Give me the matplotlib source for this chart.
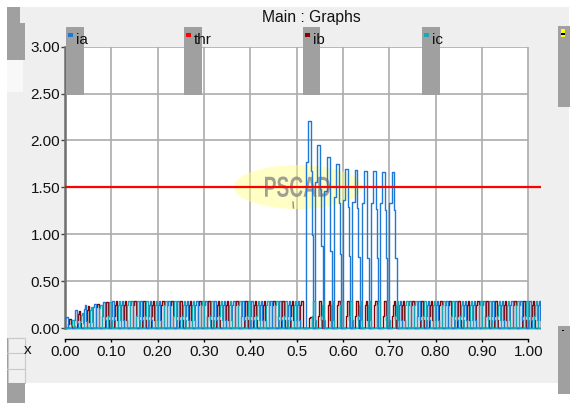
import matplotlib
matplotlib.use('Agg')
import matplotlib.pyplot as plt
from matplotlib.patches import Rectangle, Ellipse, PathPatch
from matplotlib.textpath import TextPath
from matplotlib.font_manager import FontProperties
import matplotlib.transforms as mtransforms

plt.rcParams['font.family'] = ['Liberation Sans', 'DejaVu Sans']

# ---------------- data ----------------
title = "Main : Graphs"
period = 0.02
t_end = 1.028
threshold = 1.5
x_ticks = [0.0, 0.1, 0.2, 0.3, 0.4, 0.5, 0.6, 0.7, 0.8, 0.9, 1.0]
x_tick_labels = ['0.00', '0.10', '0.20', '0.30', '0.40', '0.5', '0.60', '0.70', '0.80', '0.90', '1.00']
y_ticks = [0.0, 0.5, 1.0, 1.5, 2.0, 2.5, 3.0]
y_tick_labels = ['0.00', '0.50', '1.00', '1.50', '2.00', '2.50', '3.00']
series_names = ['ia', 'thr', 'ib', 'ic']
series_colors = ['#1E78D6', '#FF0000', '#8B0000', '#1AA7B5']

# stepped pulse shapes (duration ms, relative level)
normal_step_ms = [1.0, 1.5, 3.5, 1.5]
normal_levels = [0.45, 0.85, 1.0, 0.3]
fault_step_ms = [5.0, 6.0, 1.5, 3.5]
fault_levels = [0.80, 1.0, 0.76, 0.45]

# per-cycle pulse amplitudes
ia_amps = [0.12, 0.19, 0.24, 0.26, 0.28] + [0.29] * 21 + \
          [2.21, 1.95, 1.82, 1.75, 1.70, 1.68, 1.67, 1.67, 1.66, 1.66] + [0.29] * 16
ib_amps = [0.10, 0.18, 0.23, 0.26, 0.28] + [0.29] * 21 + [0.12] + [0.29] * 25
ic_amps = [0.08, 0.16, 0.22, 0.25, 0.28] + [0.29] * 20 + [0.0] + [0.29] * 26
phase_shift = [0.0, 1.0 / 3.0, 2.0 / 3.0]  # fraction of a period


def build(amps, shift):
    t, y = [0.0], [0.0]
    off = shift * period
    for k, a in enumerate(amps):
        start = off + k * period
        if start >= t_end:
            break
        if a > 0.5:
            steps, levels = fault_step_ms, fault_levels
        else:
            steps, levels = normal_step_ms, normal_levels
        tt = start
        for d, lv in zip(steps, levels):
            t.append(tt)
            y.append(a * lv)
            tt += d / 1000.0
        t.append(tt)
        y.append(0.0)
    t.append(t_end)
    y.append(0.0)
    return t, y


W, H = 570, 403
fig = plt.figure(figsize=(W / 100, H / 100), dpi=100)
fig.patch.set_facecolor('white')
# pixel transform (origin top-left)
px = mtransforms.Affine2D().scale(1 / 100, -1 / 100).translate(0, H / 100) + fig.dpi_scale_trans

# background panel and window decorations
bg = fig.add_axes([0, 0, 1, 1], zorder=0)
bg.set_axis_off()
bg.add_patch(Rectangle((7, 7), 562, 376, facecolor='#EFEFEF', transform=px, zorder=0))
bg.add_patch(Rectangle((7, 7), 13, 16, facecolor='#A0A0A0', transform=px))
bg.add_patch(Rectangle((7, 23), 18, 37, facecolor='#A0A0A0', transform=px))
bg.add_patch(Rectangle((7, 60), 16, 32, facecolor='#F8F8F8', transform=px))
bg.add_patch(Rectangle((7.5, 338), 17, 45, facecolor='#F0F0F0', edgecolor='#C8C8C8', linewidth=0.8, transform=px))
bg.add_patch(Rectangle((7, 338), 1.2, 45, facecolor='#A0A0A0', transform=px))
bg.plot([7, 25], [353, 353], color='#C8C8C8', lw=0.8, transform=px)
bg.plot([7, 25], [369, 369], color='#C8C8C8', lw=0.8, transform=px)
bg.add_patch(Rectangle((7, 383), 18, 20, facecolor='#A0A0A0', transform=px))
bg.text(28, 350, 'x', fontsize=11, ha='center', va='center', transform=px, color='#111111')
bg.text(311.7, 17.5, title, fontsize=11.3, ha='center', va='center', transform=px, color='#111111')

# data axes
x0_px, x1_px = 65.0, 528.3
y0_px, y3_px = 328.0, 46.7
xs = (x1_px - x0_px)
ys = (y0_px - y3_px) / 3.0
ymin = -0.02
left_px = x0_px
right_px = x0_px + t_end * xs
bottom_px = y0_px - ymin * ys
top_px = y3_px
ax = fig.add_axes([left_px / W, 1 - bottom_px / H, (right_px - left_px) / W, (bottom_px - top_px) / H], zorder=1)
ax.set_facecolor('none')
ax.set_xlim(0, t_end)
ax.set_ylim(ymin, 3.0)

ax.add_patch(Rectangle((0, 0), 1.0, 3.0, facecolor='white', edgecolor='none', zorder=0))
grid_c = '#ABABAB'
ax.vlines(x_ticks[1:], 0, 3.0, color=grid_c, lw=1.2, zorder=1)
ax.hlines(y_ticks, 0, 1.0, color=grid_c, lw=1.2, zorder=1)

# watermark
ax.add_patch(Ellipse((298, 187), 128, 44, facecolor='#FFFF80', edgecolor='none', alpha=0.45,
                     transform=px, zorder=2))
tp = TextPath((0, 0), "PSCAD", size=1, prop=FontProperties(family='Liberation Sans', weight='bold'))
ext = tp.get_extents()
sx = 65.0 / ext.width
sy = 20.5 / ext.height
tr = mtransforms.Affine2D().translate(-ext.x0, -ext.y0).scale(sx, -sy).translate(265, 197) + px
ax.add_patch(PathPatch(tp, facecolor='#8E8E8E', edgecolor='none', alpha=0.85, transform=tr, zorder=2))
ax.plot([293, 293.5], [202, 208], color='#8E8E8E', lw=1, transform=px, zorder=2)

# series
t_a, y_a = build(ia_amps, phase_shift[0])
t_b, y_b = build(ib_amps, phase_shift[1])
t_c, y_c = build(ic_amps, phase_shift[2])
ax.plot(t_b, y_b, drawstyle='steps-post', color=series_colors[2], lw=1.0, zorder=3)
ax.plot(t_a, y_a, drawstyle='steps-post', color=series_colors[0], lw=1.0, zorder=4)
ax.plot(t_c, y_c, drawstyle='steps-post', color=series_colors[3], lw=1.0, zorder=5)
ax.plot([0, t_end], [threshold, threshold], color=series_colors[1], lw=1.6, zorder=6)

# axes styling
for s in ['top', 'right']:
    ax.spines[s].set_visible(False)
ax.spines['left'].set_color('#6E6E6E')
ax.spines['left'].set_linewidth(1.8)
ax.spines['left'].set_bounds(0, 3.0)
ax.spines['bottom'].set_position(('outward', 6.5))
ax.spines['bottom'].set_bounds(0, 1.0)
ax.spines['bottom'].set_color('black')
ax.spines['bottom'].set_linewidth(1.0)
ax.set_yticks(y_ticks)
ax.set_yticklabels(y_tick_labels)
ax.set_xticks(x_ticks)
ax.set_xticklabels(x_tick_labels)
ax.tick_params(axis='y', direction='out', length=3, width=1, color='#444444', pad=0.5,
               labelsize=11, labelcolor='#111111')
ax.tick_params(axis='x', direction='out', length=2.2, width=1, color='black', pad=2.5,
               labelsize=11, labelcolor='#111111')

# foreground: legend bars
fg = fig.add_axes([0, 0, 1, 1], zorder=3)
fg.set_axis_off()
fg.patch.set_alpha(0)
bar_x = [66, 184, 302.7, 422]
for bx, name, col in zip(bar_x, series_names, series_colors):
    fg.add_patch(Rectangle((bx, 27.3), 17.5, 67.7, facecolor='#A0A0A0', transform=px))
    fg.add_patch(Rectangle((bx + 2.3, 32.7), 4.8, 4.6, facecolor=col, transform=px))
    fg.text(bx + 9.8, 43.5, name, fontsize=11, ha='left', va='baseline', transform=px, color='#111111')

# right-side widgets
fg.add_patch(Rectangle((557.7, 26), 12.3, 80.7, facecolor='#A0A0A0', transform=px))
fg.add_patch(Rectangle((561, 29.3), 4, 7.4, facecolor='#FFFF00', transform=px))
fg.add_patch(Rectangle((561, 32.7), 4, 2.0, facecolor='black', transform=px))
fg.add_patch(Rectangle((557.7, 326), 12.3, 68, facecolor='#A0A0A0', transform=px))
fg.add_patch(Rectangle((561.5, 329.5), 2, 1.5, facecolor='black', transform=px))

fig.savefig('out.png', dpi=100, facecolor='white')
